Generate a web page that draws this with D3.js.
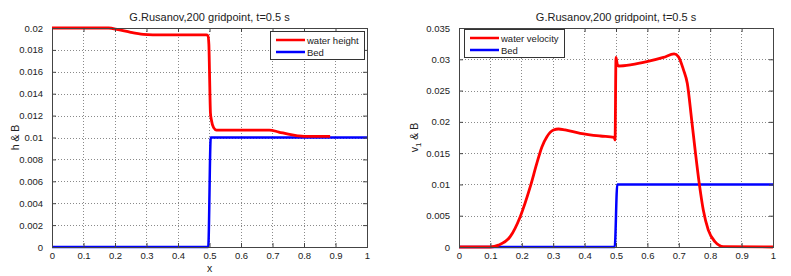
<!DOCTYPE html>
<html>
<head>
<meta charset="utf-8">
<script src="https://cdnjs.cloudflare.com/ajax/libs/d3/7.8.5/d3.min.js"></script>
<style>
html,body{margin:0;padding:0;background:#fff;}
svg{display:block;font-family:"Liberation Sans",Arial,sans-serif;}
</style>
</head>
<body>
<svg id="chart" width="791" height="276"></svg>
<script>
// ---------- data ----------
const titleText = "G.Rusanov,200 gridpoint, t=0.5 s";
const xTicks = [0,0.1,0.2,0.3,0.4,0.5,0.6,0.7,0.8,0.9,1];
const xTickLabels = ["0","0.1","0.2","0.3","0.4","0.5","0.6","0.7","0.8","0.9","1"];

const hTicks = [0,0.002,0.004,0.006,0.008,0.01,0.012,0.014,0.016,0.018,0.02];
const hTickLabels = ["0","0.002","0.004","0.006","0.008","0.01","0.012","0.014","0.016","0.018","0.02"];
const vTicks = [0,0.005,0.01,0.015,0.02,0.025,0.03,0.035];
const vTickLabels = ["0","0.005","0.01","0.015","0.02","0.025","0.03","0.035"];

// water height (left)
const heightX = [0, 0.18, 0.21, 0.25, 0.29, 0.32, 0.40, 0.49, 0.495, 0.498, 0.500, 0.503, 0.506, 0.513, 0.522, 0.60, 0.69, 0.72, 0.75, 0.78, 0.80, 0.883];
const heightY = [0.02, 0.02, 0.01985, 0.0196, 0.01942, 0.01938, 0.01937, 0.01937, 0.0193, 0.0185, 0.0160, 0.01224, 0.0116, 0.0109, 0.01068, 0.01068, 0.01068, 0.0105, 0.0103, 0.01015, 0.0101, 0.0101];

// bed
const bedX = [0, 0.496, 0.504, 1];
const bedY = [0, 0, 0.01, 0.01];

// water velocity (right)
const velX = [0, 0.10, 0.126, 0.163, 0.195, 0.227, 0.248, 0.264, 0.280, 0.301, 0.317, 0.338, 0.386, 0.45, 0.494, 0.497, 0.500, 0.504, 0.508, 0.55, 0.598, 0.651, 0.685, 0.699, 0.715, 0.727, 0.741, 0.752, 0.765, 0.778, 0.794, 0.815, 0.842, 1];
const velY = [0, 0, 0.0003, 0.00165, 0.00485, 0.00964, 0.0134, 0.016, 0.01763, 0.0187, 0.01886, 0.0187, 0.01817, 0.01774, 0.01753, 0.0171, 0.0303, 0.0292, 0.02893, 0.02915, 0.02962, 0.0303, 0.03085, 0.0304, 0.0283, 0.02616, 0.0203, 0.0155, 0.0102, 0.0059, 0.0027, 0.00085, 0.00005, 0];

const seriesColors = {water: "#ff0000", bed: "#0000ff"};

// ---------- drawing ----------
const svg = d3.select("#chart");

function panel(opts) {
  const {x0, x1, yTop, yBot, yMax, yTicks, yTickLabels, ylabel, sub, ylabelRest, xlabel,
         series, legend, legendBox} = opts;
  const x = d3.scaleLinear().domain([0,1]).range([x0,x1]);
  const y = d3.scaleLinear().domain([0,yMax]).range([yBot,yTop]);
  const g = svg.append("g");

  // grid
  g.append("g").selectAll("line").data(xTicks.slice(1,-1)).join("line")
    .attr("x1", d=>x(d)).attr("x2", d=>x(d)).attr("y1", yTop).attr("y2", yBot)
    .attr("stroke","#8a8a8a").attr("stroke-width",1).attr("stroke-dasharray","1,2")
    .attr("shape-rendering","crispEdges");
  g.append("g").selectAll("line").data(yTicks.slice(1,-1)).join("line")
    .attr("y1", d=>Math.round(y(d))+0.5).attr("y2", d=>Math.round(y(d))+0.5).attr("x1", x0).attr("x2", x1)
    .attr("stroke","#8a8a8a").attr("stroke-width",1).attr("stroke-dasharray","1,2");

  // axes via d3 axes (ticks inward)
  const axB = d3.axisBottom(x).tickValues(xTicks).tickFormat((d,i)=>xTickLabels[i]).tickSizeInner(-4).tickSizeOuter(0).tickPadding(5);
  const axT = d3.axisTop(x).tickValues(xTicks).tickFormat("").tickSizeInner(-4).tickSizeOuter(0);
  const axL = d3.axisLeft(y).tickValues(yTicks).tickFormat((d,i)=>yTickLabels[i]).tickSizeInner(-4).tickSizeOuter(0).tickPadding(9);
  const axR = d3.axisRight(y).tickValues(yTicks).tickFormat("").tickSizeInner(-4).tickSizeOuter(0);

  function style(sel){
    sel.selectAll("path").remove();
    sel.selectAll("line").attr("stroke","#444");
    sel.selectAll("text").attr("fill","#222").style("font-size","9.5px").style("font-family","'Liberation Sans',Arial,sans-serif");
  }

  // data lines (drawn before the box)
  const line = d3.line().x(d=>x(d[0])).y(d=>y(d[1])).curve(d3.curveMonotoneX);
  series.forEach(s=>{
    g.append("path").datum(s.xs.map((v,i)=>[v, s.ys[i]]))
      .attr("d", line).attr("fill","none").attr("stroke", s.color)
      .attr("stroke-width", s.width).attr("stroke-linejoin","round").attr("stroke-linecap","butt");
  });

  g.append("g").attr("transform",`translate(0,${yBot})`).call(axB).call(style);
  g.append("g").attr("transform",`translate(0,${yTop})`).call(axT).call(style);
  g.append("g").attr("transform",`translate(${x0},0)`).call(axL).call(style);
  g.append("g").attr("transform",`translate(${x1},0)`).call(axR).call(style);

  // box
  g.append("rect").attr("x",x0+0.5).attr("y",yTop+0.5).attr("width",x1-x0).attr("height",yBot-yTop)
    .attr("fill","none").attr("stroke","#444").attr("stroke-width",1);

  // title
  g.append("text").attr("x",(x0+x1)/2).attr("y",yTop-7).attr("text-anchor","middle")
    .attr("fill","#222").style("font-size","11px").text(titleText);

  // y label
  const yl = g.append("text").attr("transform",`translate(${opts.ylabelX},${(yTop+yBot)/2}) rotate(-90)`)
    .attr("text-anchor","middle").attr("fill","#222").style("font-size","10.5px");
  yl.append("tspan").text(ylabel);
  if (sub) {
    yl.append("tspan").attr("dy", 3).style("font-size","8px").text(sub);
    yl.append("tspan").attr("dy", -3).text(ylabelRest);
  }

  if (xlabel) {
    g.append("text").attr("x",(x0+x1)/2).attr("y",yBot+25).attr("text-anchor","middle")
      .attr("fill","#222").style("font-size","10.5px").text(xlabel);
  }

  // legend
  const lb = legendBox;
  g.append("rect").attr("x",lb.x+0.5).attr("y",lb.y+0.5).attr("width",lb.w).attr("height",lb.h)
    .attr("fill","#fff").attr("stroke","#333").attr("stroke-width",1);
  legend.forEach((l,i)=>{
    const ly = lb.y + 9 + i*12;
    g.append("line").attr("x1",lb.x+6).attr("x2",lb.x+35).attr("y1",ly).attr("y2",ly)
      .attr("stroke",l.color).attr("stroke-width",2.5);
    g.append("text").attr("x",lb.x+37).attr("y",ly+3.5).attr("fill","#222")
      .style("font-size","9.5px").text(l.label);
  });
}

panel({
  x0:52, x1:367, yTop:28, yBot:247, yMax:0.02,
  yTicks:hTicks, yTickLabels:hTickLabels, ylabel:"h & B", ylabelX:19, xlabel:"x",
  series:[
    {xs:bedX, ys:bedY, color:seriesColors.bed, width:2.5},
    {xs:heightX, ys:heightY, color:seriesColors.water, width:2.8}
  ],
  legend:[{label:"water height", color:seriesColors.water},{label:"Bed", color:seriesColors.bed}],
  legendBox:{x:270, y:31, w:94, h:28}
});

panel({
  x0:459, x1:773, yTop:28, yBot:247, yMax:0.035,
  yTicks:vTicks, yTickLabels:vTickLabels, ylabel:"v", sub:"1", ylabelRest:" & B", ylabelX:418, xlabel:null,
  series:[
    {xs:bedX, ys:bedY, color:seriesColors.bed, width:2.5},
    {xs:velX, ys:velY, color:seriesColors.water, width:2.8}
  ],
  legend:[{label:"water velocity", color:seriesColors.water},{label:"Bed", color:seriesColors.bed}],
  legendBox:{x:464, y:29, w:100, h:28}
});
</script>
</body>
</html>
